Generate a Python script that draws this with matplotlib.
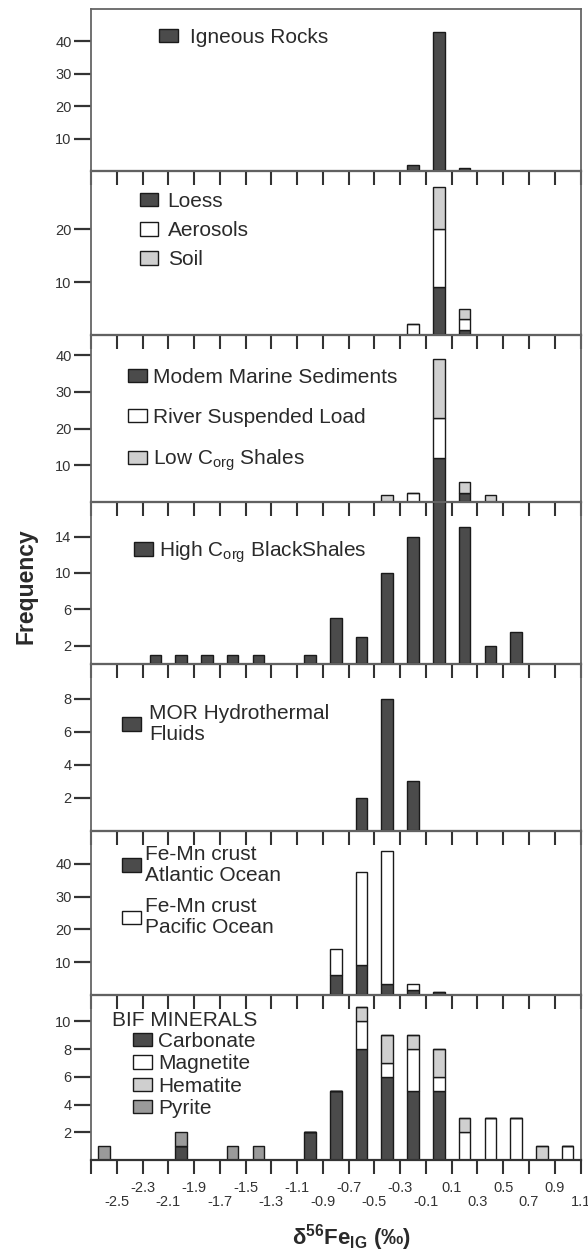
"""Seven stacked histograms of d56Fe (per mil) for the main Fe reservoirs.

Panels share one x axis; every panel is a stacked bar histogram with its
own key.  Output: out.png
"""

from __future__ import annotations

import matplotlib

matplotlib.use("Agg")
import matplotlib.pyplot as plt
import numpy as np
from matplotlib.patches import Patch
from matplotlib.ticker import FixedFormatter, FixedLocator

# ---------------------------------------------------------------- data ----
# bin centres (per mil) and counts
IGNEOUS_X = [-0.2, 0.0, 0.2]
IGNEOUS = [2, 43, 1]

DUST_X = [-0.2, 0.0, 0.2]
LOESS = [0, 9, 1]
AEROSOLS = [2, 11, 2]
SOIL = [0, 8, 2]

SED_X = [-0.4, -0.2, 0.0, 0.2, 0.4]
MARINE_SED = [0, 0, 12, 2.5, 0]
RIVER_LOAD = [0, 2.5, 11, 0, 0]
LOW_CORG = [2, 0, 16, 3, 2]

BLACK_X = [-2.2, -2.0, -1.8, -1.6, -1.4, -1.0, -0.8, -0.6, -0.4, -0.2,
           0.0, 0.2, 0.4, 0.6]
HIGH_CORG = [1, 1, 1, 1, 1, 1, 5, 3, 10, 14, 19, 15, 2, 3.5]

MOR_X = [-0.6, -0.4, -0.2]
MOR_FLUIDS = [2, 8, 3]

FEMN_X = [-0.8, -0.6, -0.4, -0.2, 0.0]
FEMN_ATLANTIC = [6, 9, 3.5, 1.5, 1]
FEMN_PACIFIC = [8, 28.5, 40.5, 2, 0]

BIF_X = [-2.6, -2.0, -1.6, -1.4, -1.0, -0.8, -0.6, -0.4, -0.2, 0.0,
         0.2, 0.4, 0.6, 0.8, 1.0]
CARBONATE = [0, 1, 0, 0, 2, 5, 8, 6, 5, 5, 0, 0, 0, 0, 0]
MAGNETITE = [0, 0, 0, 0, 0, 0, 2, 1, 3, 1, 2, 3, 3, 0, 1]
HEMATITE = [0, 0, 0, 0, 0, 0, 1, 2, 1, 2, 1, 0, 0, 1, 0]
PYRITE = [1, 1, 1, 1, 0, 0, 0, 0, 0, 0, 0, 0, 0, 0, 0]

# x tick rows: lower row (major) and upper row (minor)
X_LOWER = [-2.5, -2.1, -1.7, -1.3, -0.9, -0.5, -0.1, 0.3, 0.7, 1.1]
X_LOWER_LABELS = ["-2.5", "-2.1", "-1.7", "-1.3", "-0.9", "-0.5", "-0.1",
                  "0.3", "0.7", "1.1"]
X_UPPER = [-2.7, -2.3, -1.9, -1.5, -1.1, -0.7, -0.3, 0.1, 0.5, 0.9]
X_UPPER_LABELS = ["", "-2.3", "-1.9", "-1.5", "-1.1", "-0.7", "-0.3",
                  "0.1", "0.5", "0.9"]

# ---------------------------------------------------------------- style ---
W, H = 588, 1252
DARK = "#4b4b4b"
LIGHT = "#cfcfcf"
MID = "#9a9a9a"
TXT = "#2a2a2a"
BAR_W = 0.09
KEY_SIZE = 15

plt.rcParams["font.family"] = ["Liberation Sans", "DejaVu Sans"]
plt.rcParams["mathtext.fontset"] = "custom"
plt.rcParams["mathtext.rm"] = "Liberation Sans"
plt.rcParams["mathtext.it"] = "Liberation Sans:italic"
plt.rcParams["mathtext.bf"] = "Liberation Sans:bold"
plt.rcParams["axes.unicode_minus"] = False


def _stack(ax, x, series):
    """Draw stacked bars, bottom series first."""
    bottom = np.zeros(len(x))
    for vals, color in series:
        vals = np.asarray(vals, dtype=float)
        ax.bar(x, vals, BAR_W, bottom=bottom, color=color,
               edgecolor="#1a1a1a", linewidth=1.0, zorder=2)
        bottom += vals


def _key(fig, ax, entries, anchor, spacing, textpad=0.4):
    """Legend of square keys, top-left corner given in figure pixels."""
    handles = [Patch(facecolor=c, edgecolor="#1a1a1a", linewidth=1.0)
               for c, _ in entries]
    leg = ax.legend(handles, [lab for _, lab in entries], loc="upper left",
                    bbox_to_anchor=(anchor[0] / W, 1 - anchor[1] / H),
                    bbox_transform=fig.transFigure, frameon=False,
                    borderpad=0, borderaxespad=0, handlelength=0.9,
                    handleheight=0.62, handletextpad=textpad,
                    labelspacing=spacing, fontsize=KEY_SIZE, labelcolor=TXT)
    for t in leg.get_texts():
        t.set_linespacing(1.12)


def main() -> None:
    fig = plt.figure(figsize=(W / 100, H / 100), dpi=100)

    # panel edges in pixels (top of each panel, last = bottom of figure axes)
    edges = [9, 171, 335, 502, 664, 831, 995, 1160]
    left, right = 91, 580.5

    panels = [
        dict(x=IGNEOUS_X, series=[(IGNEOUS, DARK)], ylim=50,
             yticks=[10, 20, 30, 40],
             key=([(DARK, "Igneous Rocks")], (159, 28), 0.0, 0.6)),
        dict(x=DUST_X, series=[(LOESS, DARK), (AEROSOLS, "white"),
                               (SOIL, LIGHT)], ylim=31, yticks=[10, 20],
             key=([(DARK, "Loess"), ("white", "Aerosols"), (LIGHT, "Soil")],
                  (139.5, 192), 0.49, 0.45)),
        dict(x=SED_X, series=[(MARINE_SED, DARK), (RIVER_LOAD, "white"),
                              (LOW_CORG, LIGHT)], ylim=45.5,
             yticks=[10, 20, 30, 40],
             key=([(DARK, "Modem Marine Sediments"),
                   ("white", "River Suspended Load"),
                   (LIGHT, r"Low C$_{\mathrm{org}}$ Shales")],
                  (128, 368), 1.0, 0.3)),
        dict(x=BLACK_X, series=[(HIGH_CORG, DARK)], ylim=17.8,
             yticks=[2, 6, 10, 14],
             key=([(DARK, r"High C$_{\mathrm{org}}$ BlackShales")],
                  (134, 539), 0.0, 0.3)),
        dict(x=MOR_X, series=[(MOR_FLUIDS, DARK)], ylim=10.1,
             yticks=[2, 4, 6, 8],
             key=([(DARK, "MOR Hydrothermal\nFluids")], (122, 704), 0.0,
                  0.4)),
        dict(x=FEMN_X, series=[(FEMN_ATLANTIC, DARK), (FEMN_PACIFIC, "white")],
             ylim=50, yticks=[10, 20, 30, 40],
             key=([(DARK, "Fe-Mn crust\nAtlantic Ocean"),
                   ("white", "Fe-Mn crust\nPacific Ocean")],
                  (122, 845), 0.6, 0.2)),
        dict(x=BIF_X, series=[(CARBONATE, DARK), (MAGNETITE, "white"),
                              (HEMATITE, LIGHT), (PYRITE, MID)], ylim=11.9,
             yticks=[2, 4, 6, 8, 10],
             key=([(DARK, "Carbonate"), ("white", "Magnetite"),
                   (LIGHT, "Hematite"), (MID, "Pyrite")],
                  (133, 1032), 0.16, 0.3)),
    ]

    axes = []
    for i, p in enumerate(panels):
        top, bot = edges[i], edges[i + 1]
        ax = fig.add_axes([left / W, 1 - bot / H, (right - left) / W,
                           (bot - top) / H])
        ax.set_facecolor("none")
        _stack(ax, p["x"], p["series"])
        ax.set_xlim(-2.7, 1.1)
        ax.set_ylim(0, p["ylim"])
        ax.set_yticks(p["yticks"])
        ax.tick_params(axis="y", direction="out", length=12, width=1.6,
                       color="#333333", labelsize=10.5, labelcolor="#333333",
                       pad=2)
        ax.xaxis.set_major_locator(FixedLocator(X_LOWER))
        ax.xaxis.set_minor_locator(FixedLocator(X_UPPER))
        ax.tick_params(axis="x", which="both", direction="out", length=10,
                       width=1.5, color="#333333", labelsize=10.5,
                       labelcolor="#333333")
        for side in ("left", "right", "top"):
            ax.spines[side].set_color("#666666")
            ax.spines[side].set_linewidth(1.3)
        ax.spines["bottom"].set_color("#333333")
        ax.spines["bottom"].set_linewidth(1.6)
        entries, anchor, spacing, textpad = p["key"]
        _key(fig, ax, entries, anchor, spacing, textpad)
        if i < len(panels) - 1:
            ax.tick_params(axis="x", which="both", labelbottom=False)
        axes.append(ax)

    bottom_ax = axes[-1]
    bottom_ax.xaxis.set_major_formatter(FixedFormatter(X_LOWER_LABELS))
    bottom_ax.xaxis.set_minor_formatter(FixedFormatter(X_UPPER_LABELS))
    bottom_ax.tick_params(axis="x", which="major", pad=15.5)
    bottom_ax.tick_params(axis="x", which="minor", pad=5)

    fig.text(112.5 / W, 1 - 1020 / H, "BIF MINERALS", fontsize=KEY_SIZE,
             color=TXT, ha="left", va="center")
    fig.text(26 / W, 1 - 586 / H, "Frequency", rotation=90, fontsize=16.5,
             fontweight="bold", color=TXT, ha="center", va="center")
    fig.text(351 / W, 1 - 1238 / H,
             r"δ$^{\mathbf{56}}$Fe$_{\mathbf{IG}}$ (‰)", fontsize=16,
             fontweight="bold", color=TXT, ha="center", va="center")

    fig.savefig("out.png", dpi=100)
    plt.close(fig)


if __name__ == "__main__":
    main()
